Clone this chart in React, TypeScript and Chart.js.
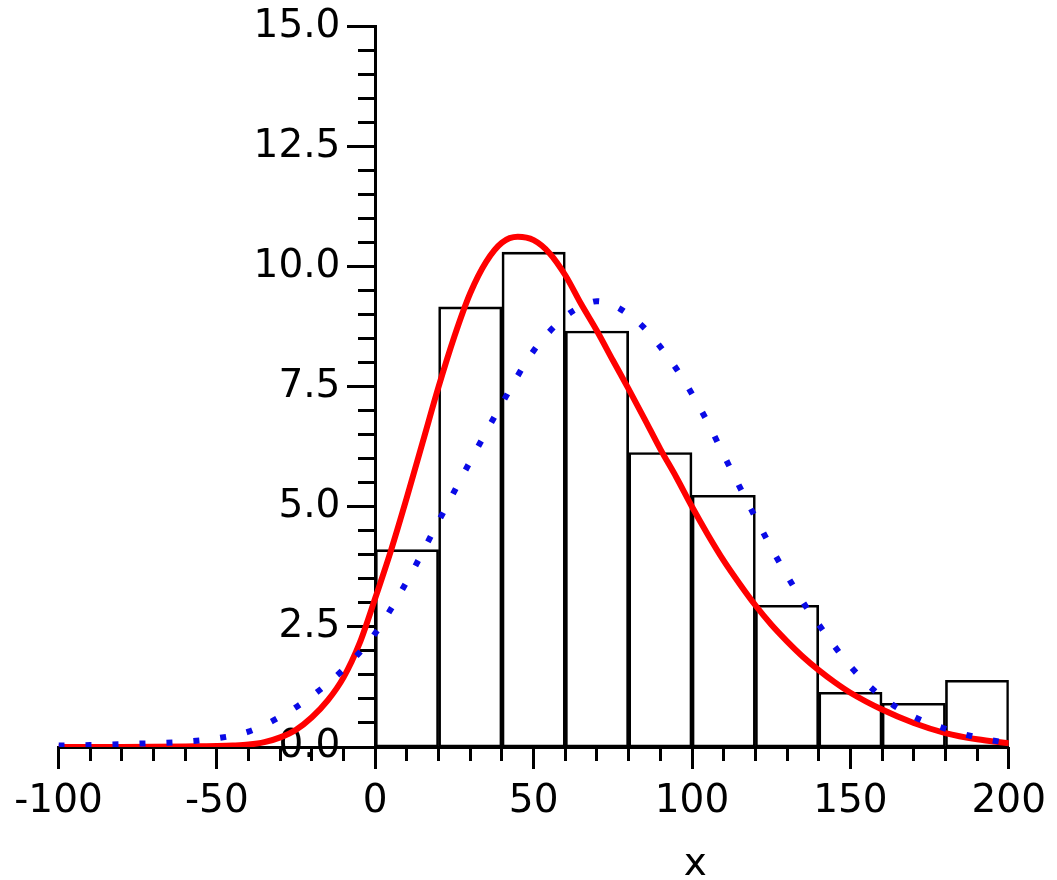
import { useEffect, useRef } from "react";
import { Chart, registerables } from "chart.js";

Chart.register(...registerables);

// Histogram: bin centres (width 20) and heights
const binCenters = [10, 30, 50, 70, 90, 110, 130, 150, 170, 190];
const binHeights = [4.11, 9.16, 10.3, 8.66, 6.13, 5.24, 2.95, 1.14, 0.91, 1.39];

// Red solid curve
const redX = [-100, -80, -60, -55, -50, -45, -40, -35, -30, -25, -20, -15, -10, -5, 0, 5, 10, 15, 20, 25, 30, 35, 40, 45, 50, 55, 60, 65, 70, 75, 80, 85, 90, 95, 100, 105, 110, 115, 120, 125, 130, 135, 140, 145, 150, 160, 170, 180, 190, 200];
const redY = [0.0, 0.0, 0.01, 0.015, 0.02, 0.03, 0.05, 0.1, 0.2, 0.36, 0.62, 0.97, 1.45, 2.15, 3.1, 4.1, 5.2, 6.35, 7.5, 8.55, 9.45, 10.1, 10.5, 10.62, 10.55, 10.28, 9.82, 9.22, 8.66, 8.05, 7.45, 6.83, 6.2, 5.62, 5.0, 4.42, 3.88, 3.4, 2.95, 2.55, 2.2, 1.88, 1.6, 1.35, 1.13, 0.78, 0.5, 0.29, 0.16, 0.08];

// Blue dotted curve
const blueX = [-100, -90, -80, -70, -60, -50, -40, -30, -20, -10, 0, 10, 20, 30, 40, 50, 60, 65, 70, 75, 80, 85, 90, 95, 100, 105, 110, 115, 120, 125, 130, 135, 140, 150, 160, 170, 180, 190, 200];
const blueY = [0.03, 0.04, 0.06, 0.08, 0.11, 0.18, 0.32, 0.63, 1.06, 1.62, 2.37, 3.45, 4.7, 5.95, 7.15, 8.25, 8.96, 9.17, 9.28, 9.2, 9.0, 8.72, 8.33, 7.88, 7.35, 6.75, 6.08, 5.42, 4.78, 4.15, 3.57, 3.02, 2.55, 1.68, 1.04, 0.63, 0.38, 0.2, 0.08];

const xMin = -100;
const xMax = 200;
const yMin = 0;
const yMax = 15;
const xLabelStep = 50;
const xMinorStep = 10;
const yLabelStep = 2.5;
const yMinorStep = 0.5;
const xAxisTitle = "x";
const xAxisTitleAt = 101;
const yLabelsAt = -11; // x value where the y tick labels end

const FONT = { family: "'DejaVu Sans', sans-serif", size: 39 };

export default function App() {
  const ref = useRef<HTMLCanvasElement | null>(null);

  useEffect(() => {
    if (!ref.current) return;
    const titlePlugin = {
      id: "xTitle",
      afterDraw(chart: any) {
        const ctx = chart.ctx;
        const xs = chart.scales.x;
        const ys = chart.scales.y;
        ctx.save();
        ctx.fillStyle = "#000";
        ctx.font = `${FONT.size}px ${FONT.family}`;
        ctx.textAlign = "center";
        ctx.textBaseline = "alphabetic";
        ctx.fillText(xAxisTitle, xs.getPixelForValue(xAxisTitleAt), ys.getPixelForValue(0) + 128);
        ctx.restore();
      },
    };

    const chart = new Chart(ref.current, {
      type: "line",
      data: {
        datasets: [
          {
            type: "bar",
            data: binCenters.map((x, i) => ({ x, y: binHeights[i] })),
            backgroundColor: "rgba(255,255,255,0)",
            borderColor: "#000",
            borderWidth: 2,
            borderSkipped: false,
            barPercentage: 1,
            categoryPercentage: 1,
            xAxisID: "x",
            yAxisID: "y",
            order: 3,
          } as any,
          {
            type: "line",
            data: redX.map((x, i) => ({ x, y: redY[i] })),
            borderColor: "#ff0000",
            borderWidth: 6,
            pointRadius: 0,
            cubicInterpolationMode: "monotone",
            xAxisID: "x",
            yAxisID: "y",
            order: 2,
          },
          {
            type: "line",
            data: blueX.map((x, i) => ({ x, y: blueY[i] })),
            borderColor: "#0a0ae6",
            borderWidth: 6,
            borderDash: [6, 21],
            pointRadius: 0,
            cubicInterpolationMode: "monotone",
            xAxisID: "x",
            yAxisID: "y",
            order: 1,
          },
        ],
      },
      options: {
        animation: false,
        responsive: false,
        devicePixelRatio: 1,
        layout: { padding: { left: 58.5, right: 47, top: 25, bottom: 133 } },
        plugins: { legend: { display: false }, tooltip: { enabled: false } },
        events: [],
        scales: {
          x: {
            type: "linear",
            min: xMin,
            max: xMax,
            offset: false,
            position: { y: 0 } as any,
            afterFit: (s: any) => { s.height = 0; },
            ticks: {
              stepSize: xLabelStep,
              autoSkip: false,
              maxRotation: 0,
              color: "#000",
              font: FONT,
              padding: 11,
              callback: (v: any) => String(v),
            },
            grid: { offset: false, drawOnChartArea: false, tickLength: 20, tickWidth: 3, tickColor: "#000" },
            border: { display: true, color: "#000", width: 3 },
          },
          xMinor: {
            type: "linear",
            axis: "x",
            min: xMin,
            max: xMax,
            offset: false,
            position: { y: 0 } as any,
            afterFit: (s: any) => { s.height = 0; },
            ticks: { stepSize: xMinorStep, display: false, autoSkip: false },
            grid: { offset: false, drawOnChartArea: false, tickLength: 14, tickWidth: 3, tickColor: "#000" },
            border: { display: false },
          } as any,
          y: {
            type: "linear",
            min: yMin,
            max: yMax,
            position: { x: yLabelsAt } as any,
            afterFit: (s: any) => { s.width = 0; },
            ticks: {
              stepSize: yLabelStep,
              autoSkip: false,
              color: "#000",
              font: FONT,
              callback: (v: any) => Number(v).toFixed(1),
            },
            grid: { display: false },
            border: { display: false },
          },
          yAxis: {
            type: "linear",
            axis: "y",
            min: yMin,
            max: yMax,
            position: { x: 0 } as any,
            afterFit: (s: any) => { s.width = 0; },
            ticks: { stepSize: yLabelStep, display: false, autoSkip: false },
            grid: { drawOnChartArea: false, tickLength: 27, tickWidth: 3, tickColor: "#000" },
            border: { display: true, color: "#000", width: 3 },
          } as any,
          yMinor: {
            type: "linear",
            axis: "y",
            min: yMin,
            max: yMax,
            position: { x: 0 } as any,
            afterFit: (s: any) => { s.width = 0; },
            ticks: { stepSize: yMinorStep, display: false, autoSkip: false },
            grid: { drawOnChartArea: false, tickLength: 17, tickWidth: 3, tickColor: "#000" },
            border: { display: false },
          } as any,
        },
      },
      plugins: [titlePlugin],
    });
    return () => chart.destroy();
  }, []);

  return (
    <div style={{ position: "fixed", left: 0, top: 0, width: 1057, height: 880, background: "#fff" }}>
      <canvas ref={ref} width={1057} height={880} style={{ display: "block" }} />
    </div>
  );
}
